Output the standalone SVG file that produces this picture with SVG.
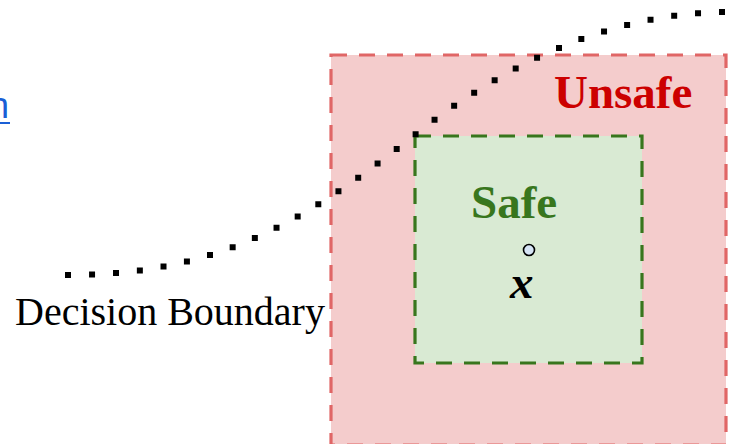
<svg xmlns="http://www.w3.org/2000/svg" width="729" height="444" viewBox="0 0 729 444">
  <style>
    .region { stroke-width: 3.2; stroke-dasharray: 16 12; }
    .unsafe { fill: #f4cccc; stroke: #e06666; }
    .safe { fill: #d9ead3; stroke: #38761d; }
    .label { font-family: "Liberation Serif", "Times New Roman", serif; }
    .boundary { fill: none; stroke: #000; stroke-width: 6; stroke-linecap: square; stroke-dasharray: 0 1; }
  </style>

  <!-- link text cropped by the left edge -->
  <g id="link">
    <text x="9" y="118" font-family="Liberation Sans, Arial, sans-serif" font-size="36" fill="#1a5fd6" text-anchor="end">n</text>
    <line x1="0" y1="123" x2="10" y2="123" stroke="#1a5fd6" stroke-width="2"/>
  </g>

  <g id="unsafe-region">
    <rect class="region unsafe" x="331" y="55" width="395" height="390"/>
    <text class="label" x="554" y="108" font-size="47" font-weight="bold" fill="#cc0000">Unsafe</text>
  </g>

  <g id="safe-region">
    <rect class="region safe" x="415" y="136" width="227" height="227"/>
    <text class="label" x="471" y="218" font-size="47" font-weight="bold" fill="#38761d">Safe</text>
  </g>

  <g id="point-x">
    <circle cx="529" cy="250" r="5.5" fill="#d6e4f5" stroke="#000" stroke-width="1.6"/>
    <text class="label" x="510" y="298" font-size="47" font-weight="bold" font-style="italic" fill="#000">x</text>
  </g>

  <g id="connectors">
    <!-- dotted boundary: 31 evenly spaced square dots -->
    <path class="boundary" pathLength="30" d="M68,275 C218,275 306,221 416,134 C496,70.8 602,14 722,12"/>
  </g>

  <g id="boundary-label">
    <text class="label" x="15" y="325" font-size="40" fill="#000">Decision Boundary</text>
  </g>
</svg>
